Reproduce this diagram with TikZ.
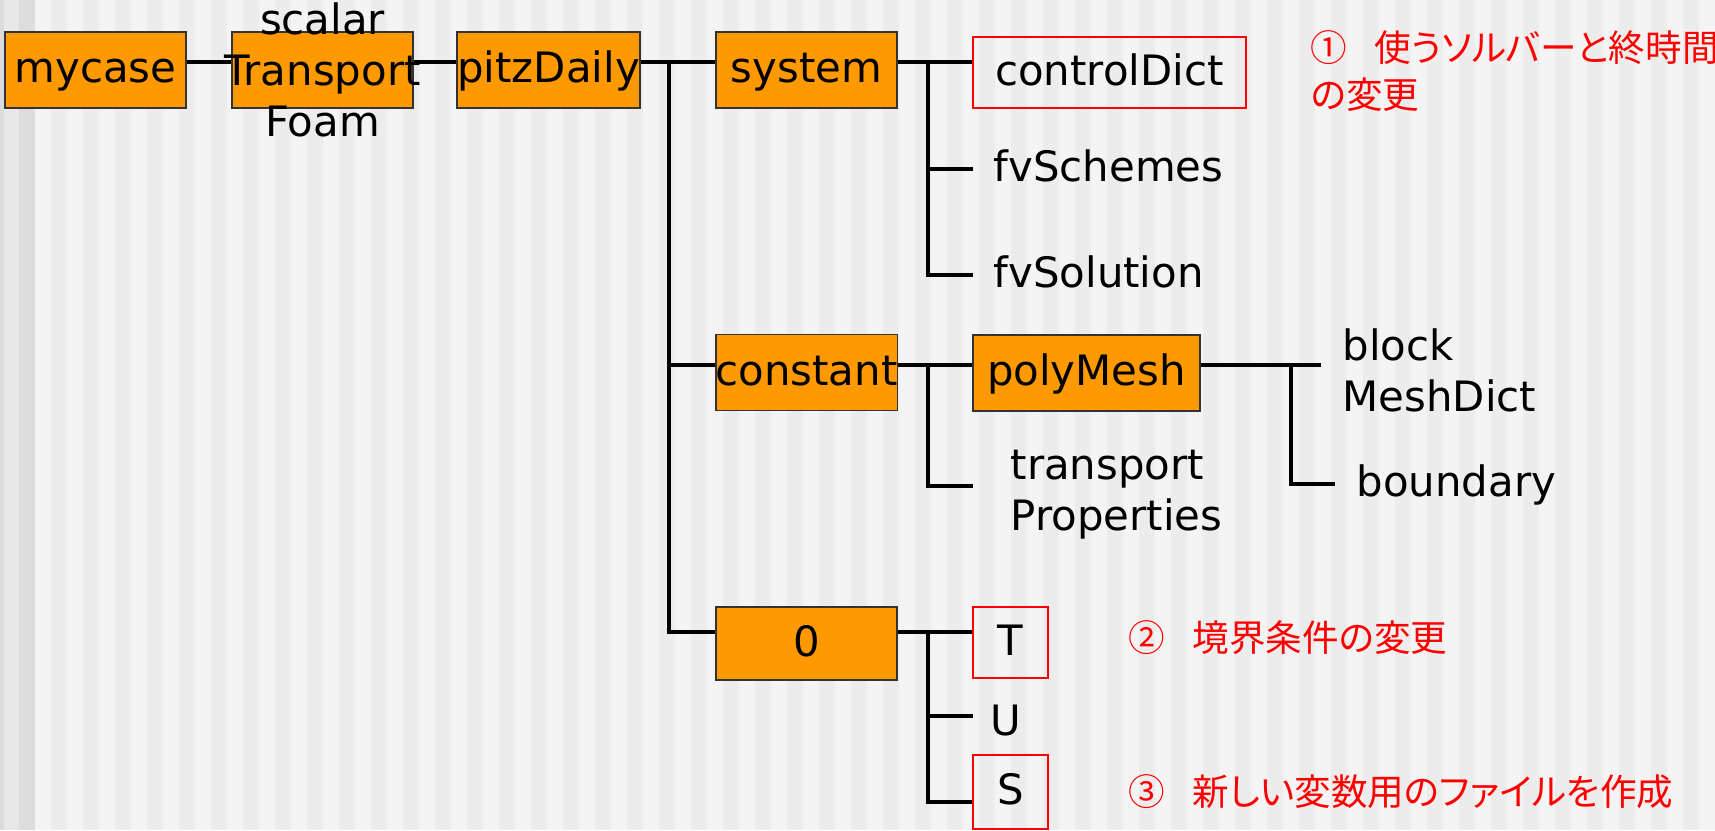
\documentclass[tikz,border=0pt]{standalone}
\usepackage{fontspec}
\setmainfont{DejaVu Sans}
\newfontfamily\jpfont{Noto Sans CJK JP}[RawFeature=+palt]
\definecolor{folderfill}{HTML}{FF9900}
\definecolor{stripelight}{HTML}{F4F4F4}
\definecolor{stripedark}{HTML}{ECECEC}
\tikzset{
	folder/.style={draw=black!80, fill=folderfill, line width=0.55pt, minimum width=1.81cm, minimum height=0.76cm, inner sep=0pt, text height=0.73em, text depth=0pt},
	picked/.style={draw=red, line width=0.6pt, minimum height=0.71cm, inner sep=0pt, text height=0.73em, text depth=0pt},
	leaf/.style={anchor=west, inner xsep=0.2cm, inner ysep=0pt, text height=0.73em, text depth=0pt},
	note/.style={anchor=base west, inner sep=0pt, text=red, font=\jpfont\fontsize{10.4pt}{13.1pt}\selectfont, align=left},
	link/.style={line width=1pt}
}
\begin{document}
\begin{tikzpicture}[x=0.01cm, y=-0.01cm, font=\fontsize{11.9pt}{14.5pt}\selectfont]
	\useasboundingbox (0, 0) rectangle (1715, 830);
	\fill[stripelight] (0, 0) rectangle (1715, 830);
	\fill[black!14] (0, 0) rectangle (4, 830);
	\fill[black!9] (4, 0) rectangle (19, 830);
	\fill[black!13.5] (19, 0) rectangle (35, 830);
	\foreach \x in {51, 83, ..., 1715}
		\fill[stripedark] (\x, 0) rectangle ++(16, 830);

	\node[folder] (mycase) at (95.5, 70) {mycase};
	\node[folder] (tsf) at (322.5, 70) {};
	\node[align=center, inner sep=0pt] (tsfname) at (tsf) {scalar\\Transport\\Foam};
	\node[folder, minimum width=1.79cm] (pitz) at (548.5, 70) {pitzDaily};
	\node[folder] (system) at (806.5, 70) {system};
	\node[folder] (constant) at (806.5, 372.5) {constant};
	\node[folder, minimum height=0.73cm] (zero) at (806.5, 643.5) {0};

	\node[picked, minimum width=2.73cm] (ctrl) at (1109.5, 72.5) {controlDict};
	\node[leaf] (fvsch) at (973, 169) {fvSchemes};
	\node[leaf] (fvsol) at (973, 275) {fvSolution};

	\node[folder, minimum width=2.27cm] (poly) at (1086.5, 373) {polyMesh};
	\node[anchor=west, inner xsep=0.37cm, inner ysep=0pt, align=left] (transp) at (973, 495) {transport\\Properties};
	\node[anchor=west, inner xsep=0.21cm, inner ysep=0pt, align=left] (blockmesh) at (1321, 370) {block\\MeshDict};
	\node[leaf, inner xsep=0.21cm] (bnd) at (1335, 484) {boundary};

	\node[picked, minimum width=0.75cm] (tfile) at (1010.5, 642.5) {T};
	\node[leaf, inner xsep=0.17cm] (ufile) at (973, 723) {U};
	\node[picked, minimum width=0.75cm, minimum height=0.74cm] (sfile) at (1010.5, 792) {S};

	\node[note] (note1) at (1310, 108) {①\hspace{0.75em}使うソルバーと終時間\\の変更};
	\node[note] (note2) at (1128, 651) {②\hspace{0.75em}境界条件の変更};
	\node[note] (note3) at (1128, 805) {③\hspace{0.75em}新しい変数用のファイルを作成};

	\coordinate (trunk) at (669, 62);
	\coordinate (sysfork) at (928, 62);
	\coordinate (constfork) at (928, 365);
	\coordinate (meshfork) at (1291, 365);
	\coordinate (zerofork) at (928, 632);

	\draw[link] (mycase.east |- trunk) -- (tsf.west |- trunk);
	\draw[link] (tsf.east |- trunk) -- (pitz.west |- trunk);
	\draw[link] (pitz.east |- trunk) -- (system.west |- trunk);
	\draw[link] (trunk) |- (zero.west |- zerofork);
	\draw[link] (trunk |- constfork) -- (constant.west |- constfork);

	\draw[link] (system.east |- sysfork) -- (ctrl.west |- sysfork);
	\draw[link] (sysfork) |- (fvsol.west);
	\draw[link] (sysfork |- fvsch.west) -- (fvsch.west);

	\draw[link] (constant.east |- constfork) -- (poly.west |- constfork);
	\draw[link] (constfork) |- ([yshift=0.09cm]transp.west);
	\draw[link] (poly.east |- meshfork) -- (blockmesh.west |- meshfork);
	\draw[link] (meshfork) |- (bnd.west);

	\draw[link] (zero.east |- zerofork) -- (tfile.west |- zerofork);
	\draw[link] (zerofork) |- ([yshift=-0.1cm]sfile.west);
	\draw[link] ([yshift=0.07cm]ufile.west) -| (zerofork);
\end{tikzpicture}
\end{document}
